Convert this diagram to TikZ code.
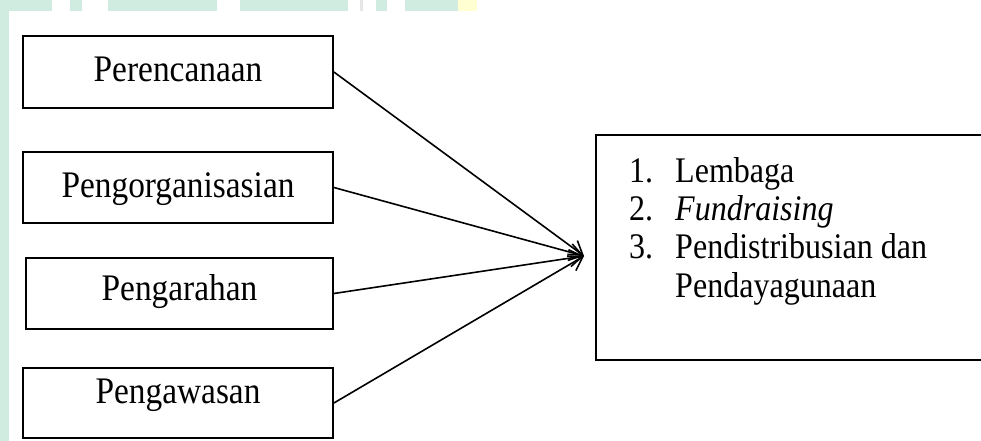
\documentclass[tikz,border=0pt]{standalone}
\usepackage{fontspec}
\setmainfont[FakeStretch=0.89]{Liberation Serif}
\usetikzlibrary{arrows.meta}
\definecolor{wmgreen}{HTML}{D0EBDF}
\definecolor{wmyellow}{HTML}{FFFFD2}
\definecolor{wmgray}{HTML}{E6E6E6}
\tikzset{
  box/.style={draw=black, line width=1.8pt, rectangle, inner sep=0pt,
    font=\fontsize{37.5}{44}\selectfont, text height=25pt},
  item/.style={anchor=base west, inner sep=0pt, font=\fontsize{36}{42}\selectfont},
  arr/.style={line width=1.6pt, -{Straight Barb[length=13pt,width=17pt,line width=1.6pt]}}
}
\begin{document}
\begin{tikzpicture}[x=1pt,y=-1pt]
\useasboundingbox (0,0) rectangle (981,441);
\begin{scope}
\clip (0,0) rectangle (981,441);
% watermark fragments
\fill[wmgreen] (0,0) rectangle (9,441);
\fill[wmgreen] (0,0) rectangle (52,11);
\fill[wmgreen] (70,0) rectangle (82,11);
\fill[wmgreen] (108,0) rectangle (217,11);
\fill[wmgreen] (240,0) rectangle (348,11);
\fill[wmgray] (360,0) rectangle (363,11);
\fill[wmgreen] (376,0) rectangle (387,11);
\fill[wmgreen] (405,0) rectangle (458,11);
\fill[wmyellow] (458,0) rectangle (477,11);

\node[box, minimum width=310pt, minimum height=72pt, text depth=5pt] (b1) at (178,72) {Perencanaan};
\node[box, minimum width=310pt, minimum height=71pt, text depth=6pt] (b2) at (178,187.5) {Pengorganisasian};
\node[box, minimum width=307pt, minimum height=71pt, text depth=12pt] (b3) at (179.5,293.5) {Pengarahan};
\node[box, minimum width=310pt, minimum height=70pt, text depth=25pt] (b4) at (178,403) {Pengawasan};

\node[draw=black, line width=1.8pt, rectangle, minimum width=420pt, minimum height=225pt] (r) at (806,247.5) {};

\node[item] (n1) at (629,182) {1.};
\node[item] (t1) at (675,182) {Lembaga};
\node[item] (n2) at (629,220) {2.};
\node[item] (t2) at (675,220) {\textit{Fundraising}};
\node[item] (n3) at (629,258) {3.};
\node[item] (t3) at (675,258) {Pendistribusian dan};
\node[item] (t4) at (675,297) {Pendayagunaan};

\coordinate (tip) at (584,256);
\draw[arr] (b1.east) -- (tip);
\draw[arr] (b2.east) -- (tip);
\draw[arr] (b3.east) -- (tip);
\draw[arr] (b4.east) -- (tip);
\end{scope}
\end{tikzpicture}
\end{document}
